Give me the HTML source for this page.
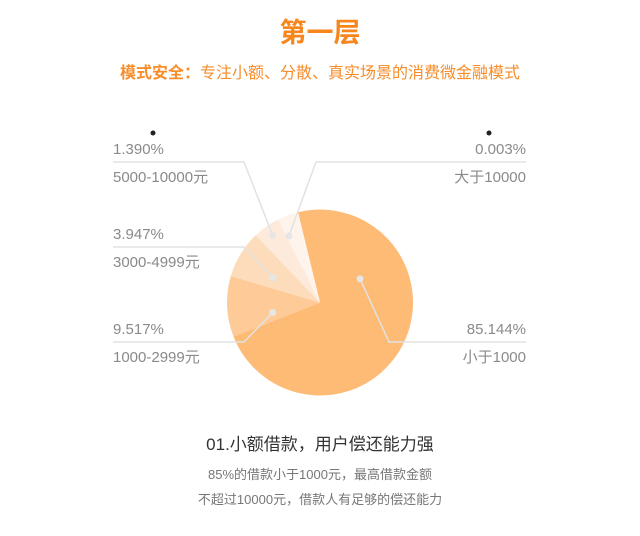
<!DOCTYPE html>
<html><head><meta charset="utf-8"><style>
html,body{margin:0;padding:0;background:#fff;}
svg{display:block;font-family:"Liberation Sans","Noto Sans CJK SC",sans-serif;}
</style></head><body>
<svg id="chart" width="640" height="536" viewBox="0 0 640 536">
<text x="320" y="42" text-anchor="middle" font-size="27" font-weight="bold" fill="#f7861c">第一层</text>
<text x="320" y="78" text-anchor="middle" font-size="16" fill="#f78d2b"><tspan font-weight="bold">模式安全：</tspan>专注小额、分散、真实场景的消费微金融模式</text>
<g id="slices"></g>
<g id="labels"></g>
<circle cx="153" cy="133" r="2.5" fill="#222"/>
<circle cx="489" cy="133" r="2.5" fill="#222"/>
<text x="320" y="450" text-anchor="middle" font-size="17" fill="#333">01.小额借款，用户偿还能力强</text>
<text x="320" y="479" text-anchor="middle" font-size="13" fill="#777">85%的借款小于1000元，最高借款金额</text>
<text x="320" y="504" text-anchor="middle" font-size="13" fill="#777">不超过10000元，借款人有足够的偿还能力</text>
</svg>
<script>
// data
const categories = ["小于1000", "1000-2999元", "3000-4999元", "5000-10000元", "大于10000"];
const percentLabels = ["85.144%", "9.517%", "3.947%", "1.390%", "0.003%"];
// slice shares as drawn in the picture (degrees of arc)
const sliceShares = [262, 38, 29.7, 17, 13];

const colors = ["#fdbb76", "#fecb98", "#fddcbb", "#feeadb", "#fff4ec"];
const dotR = [0.5, 0.52, 0.57, 0.88, 0.79];
const dotAngOff = [-58, -9.5, -3.5, 0, -4.8];
const cx = 320, cy = 302.5, R = 93, startAng = -13.7;
const NS = "http://www.w3.org/2000/svg";
const total = sliceShares.reduce((a, b) => a + b, 0);
function pt(deg, r) { const a = deg * Math.PI / 180; return [cx + r * Math.sin(a), cy - r * Math.cos(a)]; }
function mk(tag, attrs) { const e = document.createElementNS(NS, tag); for (const k in attrs) e.setAttribute(k, attrs[k]); return e; }
const gS = document.getElementById("slices"), gL = document.getElementById("labels");
let ang = startAng;
const dots = [];
sliceShares.forEach((v, i) => {
  const span = v / total * 360;
  const a0 = ang, a1 = ang + span;
  const p0 = pt(a0, R), p1 = pt(a1, R);
  const d = `M${cx},${cy} L${p0[0]},${p0[1]} A${R},${R} 0 ${span > 180 ? 1 : 0} 1 ${p1[0]},${p1[1]} Z`;
  const path = mk("path", { d: d, fill: colors[i] });
  
  
  gS.appendChild(path);
  dots.push(pt((a0 + a1) / 2 + dotAngOff[i], R * dotR[i]));
  ang = a1;
});
// label layout: [elbowX, lineY, lineX1, lineX2, textX, anchor]
const layout = [
  [389, 342, 389, 526, 526, "end"],
  [244, 342, 113, 244, 113, "start"],
  [244, 247, 113, 244, 113, "start"],
  [244, 162, 113, 244, 113, "start"],
  [316, 162, 316, 526, 526, "end"]
];
categories.forEach((c, i) => {
  const L = layout[i], dp = dots[i];
  const pl = mk("polyline", { fill: "none", stroke: "#e2e2e2", "stroke-width": 1.5 });
  pl.setAttribute('points', (L[5] === "end" ? `${L[3]},${L[1]} ${L[0]},${L[1]} ${dp[0]},${dp[1]}` : `${L[2]},${L[1]} ${L[0]},${L[1]} ${dp[0]},${dp[1]}`));
  
  
  gL.appendChild(pl);
  const dot = mk("circle", { cx: dp[0], cy: dp[1], r: 3.5, fill: "#e6e6e6" });
  
  
  gL.appendChild(dot);
  const t1 = mk("text", { x: L[4], y: L[1] - 8, "text-anchor": L[5], "font-size": 15, fill: "#8a8a8a" });
  t1.textContent = percentLabels[i];
  
  
  gL.appendChild(t1);
  const t2 = mk("text", { x: L[4], y: L[1] + 20, "text-anchor": L[5], "font-size": 15, fill: "#8a8a8a" });
  t2.textContent = c;
  
  
  gL.appendChild(t2);
});
</script>
</body></html>
